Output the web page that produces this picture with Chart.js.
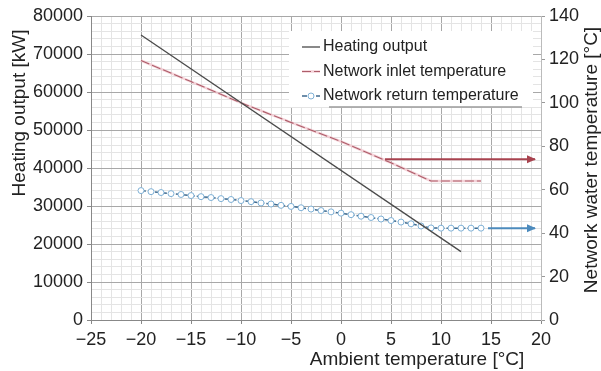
<!DOCTYPE html>
<html>
<head>
<meta charset="utf-8">
<script src="https://cdn.jsdelivr.net/npm/chart.js@4.4.1/dist/chart.umd.min.js"></script>
<style>
  html, body { margin: 0; padding: 0; background: #fff; }
  #wrap { width: 601px; height: 371px; }
</style>
</head>
<body>
<div id="wrap"><canvas id="heatChart" width="601" height="371"></canvas></div>
<script>
// ambient temperature [°C] vs heating output [kW]
const heatX = [-20, 12];
const heatOutput = [75000, 18000];

// network inlet temperature [°C]
const inletX = [-20, -15, -10, -5, 0, 5, 9, 14];
const inletTemp = [119.5, 109.8, 100, 91, 82.2, 72.4, 64, 64];

// network return temperature [°C], one marker per degree
const returnX = [-20, -19, -18, -17, -16, -15, -14, -13, -12, -11, -10, -9, -8, -7, -6, -5, -4, -3, -2, -1,
                 0, 1, 2, 3, 4, 5, 6, 7, 8, 9, 10, 11, 12, 13, 14];
const returnTemp = [59.6, 59.1, 58.7, 58.2, 57.8, 57.3, 56.8, 56.4, 55.9, 55.5, 55.0, 54.5, 53.9, 53.4, 52.8,
                    52.3, 51.7, 51.1, 50.4, 49.8, 49.2, 48.5, 47.8, 47.2, 46.5, 45.8, 45.1, 44.3, 43.3, 42.4,
                    42.3, 42.3, 42.3, 42.3, 42.3];

// arrows pointing to the right-hand axis
const inletArrowX = [4.4, 19.4];
const inletArrowY = [74, 74];
const returnArrowX = [14.7, 19.4];
const returnArrowY = [42.3, 42.3];

const FONT = '"Liberation Sans", Arial, Helvetica, sans-serif';
const TXT = '#222';

const pts = (xs, ys) => xs.map((x, i) => ({ x: x, y: ys[i] }));
const minus = v => (v < 0 ? '\u2212' + Math.abs(v) : String(v));

// pink glow under the dashed inlet line + heads on the arrows
const lineExtras = {
  id: 'lineExtras',
  beforeDatasetsDraw(chart) {
    const ctx = chart.ctx;
    chart.data.datasets.forEach((ds, i) => {
      if (!ds.halo) return;
      const els = chart.getDatasetMeta(i).data;
      ctx.save();
      ctx.strokeStyle = ds.halo;
      ctx.lineWidth = 2.6;
      ctx.beginPath();
      els.forEach((p, k) => (k ? ctx.lineTo(p.x, p.y) : ctx.moveTo(p.x, p.y)));
      ctx.stroke();
      ctx.restore();
    });
  },
  afterDatasetsDraw(chart) {
    const ctx = chart.ctx;
    chart.data.datasets.forEach((ds, i) => {
      if (!ds.arrow) return;
      const els = chart.getDatasetMeta(i).data;
      const b = els[els.length - 1];
      ctx.save();
      ctx.fillStyle = ds.borderColor;
      ctx.beginPath();
      ctx.moveTo(b.x + 1, b.y);
      ctx.lineTo(b.x - 8, b.y - 4);
      ctx.lineTo(b.x - 8, b.y + 4);
      ctx.closePath();
      ctx.fill();
      ctx.restore();
    });
  }
};

const boxLegend = {
  id: 'boxLegend',
  afterDraw(chart) {
    const ctx = chart.ctx;
    ctx.save();
    ctx.fillStyle = '#fff';
    ctx.fillRect(289, 31, 244, 76);
    ctx.strokeStyle = '#9a9a9a';
    ctx.lineWidth = 1.5;
    ctx.beginPath();
    ctx.moveTo(329, 107);
    ctx.lineTo(522, 107);
    ctx.stroke();

    ctx.font = '16px ' + FONT;
    ctx.textBaseline = 'middle';
    ctx.fillStyle = TXT;
    let row = 0;
    chart.data.datasets.forEach(ds => {
      if (ds.arrow) return;
      const y = 47 + row * 24.5;
      ctx.save();
      if (ds.halo) {
        ctx.strokeStyle = ds.halo;
        ctx.lineWidth = 2.6;
        ctx.beginPath();
        ctx.moveTo(302, y);
        ctx.lineTo(320, y);
        ctx.stroke();
      }
      ctx.strokeStyle = ds.borderColor;
      ctx.lineWidth = ds.borderWidth;
      ctx.setLineDash(ds.borderDash || []);
      ctx.beginPath();
      ctx.moveTo(302, y);
      ctx.lineTo(320, y);
      ctx.stroke();
      if (ds.pointRadius > 0) {
        ctx.setLineDash([]);
        ctx.fillStyle = ds.pointBackgroundColor;
        ctx.strokeStyle = ds.pointBorderColor;
        ctx.lineWidth = ds.pointBorderWidth;
        ctx.beginPath();
        ctx.arc(311, y, ds.pointRadius, 0, Math.PI * 2);
        ctx.fill();
        ctx.stroke();
      }
      ctx.restore();
      ctx.fillText(ds.label, 323, y);
      row++;
    });
    ctx.restore();
  }
};

const axisTitles = {
  id: 'axisTitles',
  afterDraw(chart) {
    const ctx = chart.ctx;
    ctx.save();
    ctx.fillStyle = TXT;
    ctx.font = '19px ' + FONT;
    ctx.textAlign = 'center';
    ctx.textBaseline = 'alphabetic';
    ctx.fillText('Ambient temperature [\u00B0C]', 417, 365);

    ctx.save();
    ctx.translate(25, 113);
    ctx.rotate(-Math.PI / 2);
    ctx.fillText('Heating output [kW]', 0, 0);
    ctx.restore();

    ctx.save();
    ctx.translate(597, 160);
    ctx.rotate(-Math.PI / 2);
    ctx.fillText('Network water temperature [\u00B0C]', 0, 0);
    ctx.restore();
    ctx.restore();
  }
};

new Chart(document.getElementById('heatChart').getContext('2d'), {
  type: 'line',
  data: {
    datasets: [
      {
        label: 'Heating output',
        data: pts(heatX, heatOutput),
        yAxisID: 'y',
        borderColor: '#4a4a4a',
        borderWidth: 1.3,
        pointRadius: 0
      },
      {
        label: 'Network inlet temperature',
        data: pts(inletX, inletTemp),
        yAxisID: 'y1',
        borderColor: 'rgba(160, 72, 86, 0.85)',
        halo: 'rgba(242, 196, 204, 0.75)',
        borderWidth: 1.1,
        borderDash: [9, 3],
        pointRadius: 0
      },
      {
        label: 'Network return temperature',
        data: pts(returnX, returnTemp),
        yAxisID: 'y1',
        borderColor: '#3f6a8e',
        borderWidth: 1.5,
        borderDash: [5, 2],
        pointRadius: 3,
        pointBorderWidth: 1,
        pointBorderColor: '#7fb1d6',
        pointBackgroundColor: '#fff'
      },
      {
        label: 'inlet arrow',
        arrow: true,
        data: pts(inletArrowX, inletArrowY),
        yAxisID: 'y1',
        borderColor: '#a8434f',
        borderWidth: 2,
        pointRadius: 0
      },
      {
        label: 'return arrow',
        arrow: true,
        data: pts(returnArrowX, returnArrowY),
        yAxisID: 'y1',
        borderColor: '#4d8bbd',
        borderWidth: 2,
        pointRadius: 0
      }
    ]
  },
  options: {
    responsive: false,
    animation: false,
    devicePixelRatio: 1,
    layout: { padding: { top: 16, left: 0, right: 0, bottom: 0 } },
    plugins: { legend: { display: false }, tooltip: { enabled: false } },
    scales: {
      x: {
        type: 'linear',
        min: -25,
        max: 20,
        afterFit: s => { s.height = 51; },
        ticks: {
          stepSize: 1,
          autoSkip: false,
          maxRotation: 0,
          padding: 5,
          color: TXT,
          font: { size: 18, family: FONT },
          callback: v => (v % 5 === 0 ? minus(v) : '')
        },
        grid: {
          color: c => (c.tick && c.tick.value % 5 === 0 ? '#a8a8a8' : '#e4e4e4'),
          tickColor: c => (c.tick && c.tick.value % 5 === 0 ? '#888' : 'rgba(0,0,0,0)'),
          tickLength: 4
        },
        border: { color: '#888' }
      },
      y: {
        type: 'linear',
        position: 'left',
        min: 0,
        max: 80000,
        afterFit: s => { s.width = 91; },
        ticks: {
          stepSize: 2000,
          autoSkip: false,
          padding: 4,
          color: TXT,
          font: { size: 18, family: FONT },
          callback: v => (v % 10000 === 0 ? String(v) : '')
        },
        grid: {
          color: c => (c.tick && c.tick.value % 10000 === 0 ? '#a8a8a8' : '#e4e4e4'),
          tickColor: c => (c.tick && c.tick.value % 10000 === 0 ? '#888' : 'rgba(0,0,0,0)'),
          tickLength: 4
        },
        border: { color: '#888' }
      },
      y1: {
        type: 'linear',
        position: 'right',
        min: 0,
        max: 140,
        afterFit: s => { s.width = 60; },
        ticks: {
          stepSize: 20,
          padding: 4,
          color: TXT,
          font: { size: 18, family: FONT }
        },
        grid: { drawOnChartArea: false, tickLength: 4, tickColor: '#999' },
        border: { color: '#bbb' }
      }
    }
  },
  plugins: [lineExtras, boxLegend, axisTitles]
});
</script>
</body>
</html>
